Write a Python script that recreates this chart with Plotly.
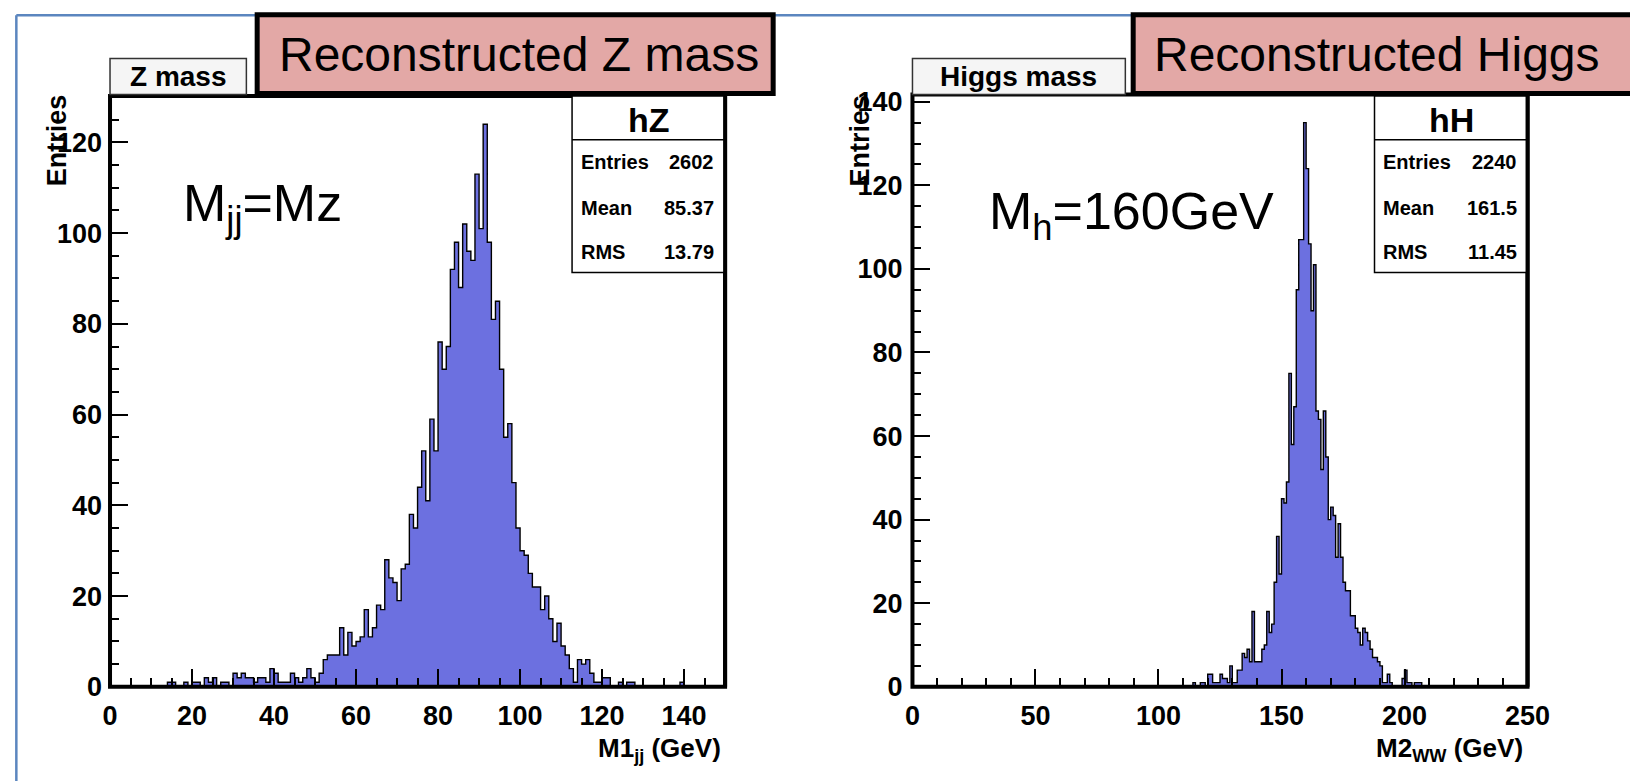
import numpy as np
import plotly.graph_objects as go

W, H = 1630, 781
FONT = "Liberation Sans"

# Reconstructed di-jet mass (Z candidate), 1 GeV bins, first bin starts at 14 GeV
z_first_bin = 14
z_counts = [
    1, 1, 0, 0, 1, 0, 1, 1, 0, 2, 1, 2, 0, 1, 1, 0, 3, 2, 3, 2,          # 14-33
    2, 1, 2, 2, 1, 4, 3, 1, 1, 1, 3, 2, 1,                               # 34-46
    2, 4, 2, 1, 3, 6, 7, 7, 7, 13, 7, 12, 9, 10, 11, 17, 11, 13, 18, 17,  # 47-66
    28, 24, 23, 19, 26, 27, 38, 35, 44, 52, 41, 59, 52,                  # 67-79
    76, 70, 75, 92, 98, 88, 102, 96, 94, 113, 101, 124, 98, 81, 85, 70,  # 80-95
    55, 58, 45, 35, 30, 29, 25, 22, 22, 17, 20, 15, 10, 14, 9, 7, 4, 1,  # 96-113
    6, 5, 6, 3, 1, 1, 2, 2, 0, 0, 1, 0, 1, 1,                            # 114-127
    0, 0, 0, 0, 0, 0, 0, 0, 0, 0, 0, 1,                                  # 128-139
]

# Reconstructed WW mass (Higgs candidate), 1 GeV bins, first bin starts at 114 GeV
h_first_bin = 114
h_counts = [
    1, 0, 0, 1, 1, 0, 3, 3, 1, 1, 1, 3, 2, 2, 1, 5, 1, 1, 4, 4,          # 114-133
    8, 7, 9, 6, 18, 6, 6, 6, 9, 10, 18, 13, 15, 25, 36, 27, 45, 44, 49,  # 134-152
    75, 58, 67, 95, 107, 107, 135, 124, 106, 90, 101, 66, 64,            # 153-165
    52, 66, 55, 40, 43, 41, 31, 39, 31, 25, 23, 23, 17, 17, 14, 13,      # 166-181
    10, 14, 13, 11, 9, 7, 7, 6, 5, 1, 1, 3, 1, 0, 0, 0, 0, 2, 4, 1,      # 182-201
    1, 0, 1, 1, 1, 0,                                                    # 202-207
]

z_stats = [("Entries", "2602"), ("Mean", "85.37"), ("RMS", "13.79")]
h_stats = [("Entries", "2240"), ("Mean", "161.5"), ("RMS", "11.45")]

FILL = "#6C70E0"


def px(x):
    return x / W


def py(y):
    return 1 - y / H


def step_trace(first, counts, xa, ya):
    """Histogram drawn as a filled step outline, like ROOT's default style."""
    counts = np.asarray(counts, dtype=float)
    edges = first + np.arange(len(counts) + 1)
    xs = np.concatenate([[edges[0]], edges[:-1], [edges[-1]]])
    ys = np.concatenate([[0.0], counts, [0.0]])
    return go.Scatter(
        x=xs, y=ys, mode="lines",
        line=dict(shape="hv", color="black", width=1.4),
        fill="tozeroy", fillcolor=FILL,
        xaxis=xa, yaxis=ya, hoverinfo="skip", showlegend=False,
    )


fig = go.Figure()
fig.add_trace(step_trace(z_first_bin, z_counts, "x", "y"))
fig.add_trace(step_trace(h_first_bin, h_counts, "x2", "y2"))

# frame geometry (pixels)
L1 = dict(x0=104, x1=731, top=91.7, bot=699.5)
L2 = dict(x0=922, x1=1549, top=90.0, bot=699.5)

tickfont = dict(family=FONT, size=27, color="black", weight="bold")


def axis_cfg(domain, rng, dtick, minor, standoff):
    return dict(
        domain=domain, range=rng, showgrid=False, zeroline=False,
        showline=False, ticks="inside", ticklen=18, tickwidth=2, tickcolor="black",
        tick0=0, dtick=dtick, tickfont=tickfont, ticklabelstandoff=standoff,
        minor=dict(ticks="inside", ticklen=9, tickwidth=2, tickcolor="black", dtick=minor, tick0=0),
        fixedrange=True,
    )


fig.update_layout(
    width=W, height=H, margin=dict(l=0, r=0, t=0, b=0),
    paper_bgcolor="white", plot_bgcolor="white", showlegend=False,
    xaxis=dict(axis_cfg([px(L1["x0"]), px(L1["x1"])], [0, 150], 20, 5, 10), anchor="y"),
    yaxis=dict(axis_cfg([py(L1["bot"]), py(L1["top"])], [0, 130.2], 20, 5, 7), anchor="x"),
    xaxis2=dict(axis_cfg([px(L2["x0"]), px(L2["x1"])], [0, 250], 50, 10, 10), anchor="y2"),
    yaxis2=dict(axis_cfg([py(L2["bot"]), py(L2["top"])], [0, 141.75], 20, 5, 9), anchor="x2"),
)

shapes = []
# slide border lines
shapes.append(dict(type="line", xref="paper", yref="paper", x0=px(8.5), x1=px(8.5), y0=py(8.5), y1=py(800),
                   line=dict(color="#5B86BF", width=2.5), layer="above"))
shapes.append(dict(type="line", xref="paper", yref="paper", x0=px(8.5), x1=px(1640), y0=py(8.5), y1=py(8.5),
                   line=dict(color="#5B86BF", width=2.5), layer="above"))


def rect(x0, y0, x1, y1, fill, color, width):
    return dict(type="rect", xref="paper", yref="paper", x0=px(x0), x1=px(x1), y0=py(y0), y1=py(y1),
                fillcolor=fill, line=dict(color=color, width=width), layer="above")


for fr in (L1, L2):
    shapes.append(rect(fr["x0"], fr["top"], fr["x1"], fr["bot"], "rgba(0,0,0,0)", "black", 4))

# statistics boxes
for bx0, bx1 in ((575, 731), (1393, 1549)):
    shapes.append(rect(bx0, 91.7, bx1, 273.3, "white", "black", 1.5))
    shapes.append(dict(type="line", xref="paper", yref="paper", x0=px(bx0), x1=px(bx1),
                       y0=py(136.7), y1=py(136.7), line=dict(color="black", width=1.5), layer="above"))
# redraw right frame edges over the stats boxes
for fr in (L1, L2):
    shapes.append(dict(type="line", xref="paper", yref="paper", x0=px(fr["x1"]), x1=px(fr["x1"]),
                       y0=py(fr["top"]), y1=py(fr["bot"]), line=dict(color="black", width=4), layer="above"))

# histogram title boxes
shapes.append(rect(104, 53, 243, 90, "#F5F5F5", "#333333", 1.5))
shapes.append(rect(922, 53, 1139, 90, "#F5F5F5", "#333333", 1.5))

# slide caption boxes
shapes.append(rect(254, 8, 780, 89, "#E3A8A6", "black", 5))
shapes.append(rect(1147, 8, 1660, 89, "#E3A8A6", "black", 5))

fig.update_layout(shapes=shapes)

ann = []


def text(x, y, s, size, bold=False, xanchor="center", yanchor="middle", angle=0):
    f = dict(family=FONT, size=size, color="black")
    if bold:
        f["weight"] = "bold"
    ann.append(dict(xref="paper", yref="paper", x=px(x), y=py(y), text=s, showarrow=False,
                    font=f, xanchor=xanchor, yanchor=yanchor, textangle=angle))


text(274, 48.5, "Reconstructed Z mass", 48, xanchor="left")
text(1166, 48.5, "Reconstructed Higgs", 48, xanchor="left")
text(173.5, 72, "Z mass", 28, bold=True)
text(1030.5, 72, "Higgs mass", 28, bold=True)

text(176, 206, "M<sub>jj</sub>=Mz", 52, xanchor="left")
text(998, 214, "M<sub>h</sub>=160GeV", 52, xanchor="left")

text(50, 137, "Entries", 27, bold=True, angle=-90)
text(869, 137, "Entries", 27, bold=True, angle=-90)

text(729, 764, "M1<sub>jj</sub> (GeV)", 26, bold=True, xanchor="right")
text(1546, 764, "M2<sub>WW</sub> (GeV)", 26, bold=True, xanchor="right")

for (bx0, bx1, name, stats) in ((575, 731, "hZ", z_stats), (1393, 1549, "hH", h_stats)):
    text((bx0 + bx1) / 2, 116, name, 34, bold=True)
    for (lab, val), yy in zip(stats, (160, 206.7, 251.7)):
        text(bx0 + 7, yy, lab, 20, bold=True, xanchor="left")
        text(bx1 - 9, yy, val, 20, bold=True, xanchor="right")

fig.update_layout(annotations=ann)

fig.write_html("out.html")
